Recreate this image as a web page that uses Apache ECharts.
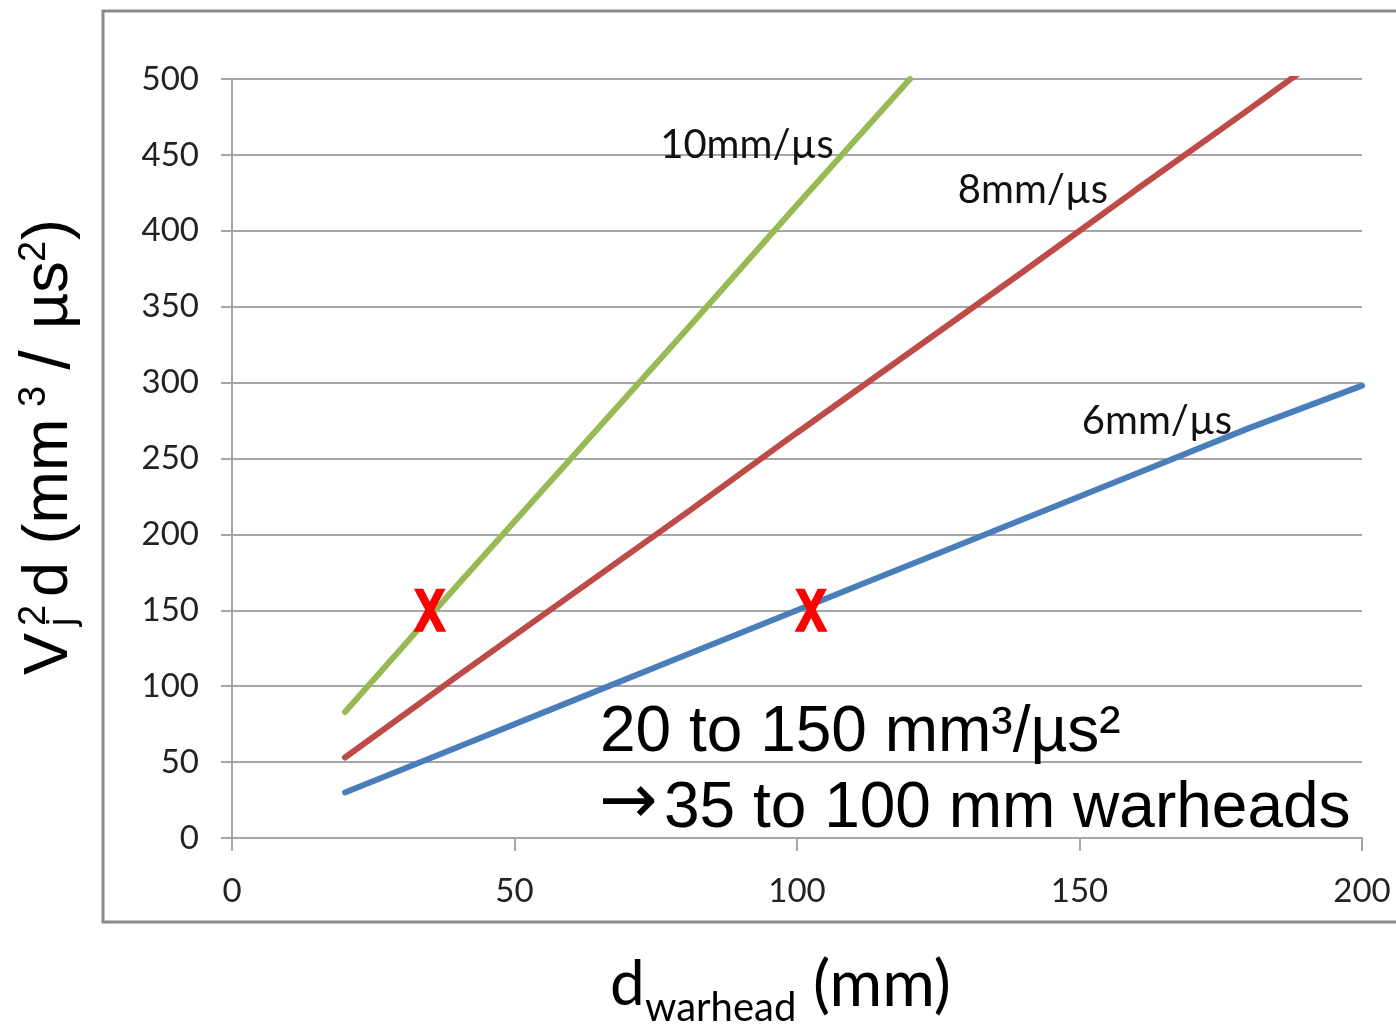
<!DOCTYPE html>
<html>
<head>
<meta charset="utf-8">
<script src="https://cdn.jsdelivr.net/npm/echarts@6/dist/echarts.min.js"></script>
<style>
html,body{margin:0;padding:0;background:#fff;}
#chart{width:1396px;height:1026px;}
</style>
</head>
<body>
<div id="chart"></div>
<script>
// ---- data ----
const xTicks = [0, 50, 100, 150, 200];
const yTicks = [0, 50, 100, 150, 200, 250, 300, 350, 400, 450, 500];

const d10 = [20, 40, 60, 80, 100, 120];
const v10 = [83, 167, 250, 333, 417, 500];

const d8 = [20, 40, 60, 80, 100, 120, 140, 160, 180, 190];
const v8 = [53, 107, 160, 213, 267, 320, 373, 427, 480, 507];

const d6 = [20, 40, 60, 80, 100, 120, 140, 160, 180, 200];
const v6 = [30, 60, 90, 120, 150, 180, 210, 240, 270, 298];

const markD = [35, 102.5];
const markV = [150, 150];

const seriesNames = ['10mm/µs', '8mm/µs', '6mm/µs'];
const annotation1 = '20 to 150 mm³/µs²';
const annotation2 = '35 to 100 mm warheads';

// ---- chart ----
const pair = (xs, ys) => xs.map((x, i) => [x, ys[i]]);
const chart = echarts.init(document.getElementById('chart'));
const gridColor = '#A6A6A6';
const tickFont = 'Lato, "Open Sans", sans-serif';
const arial = '"Liberation Sans", Arial, sans-serif';
const X_PATH = 'path://M2,0L30,0L50,40L70,0L98,0L64,65L100,134L71,134L50,91L29,134L0,134L36,65Z';

const lineSeries = (name, xs, ys, color) => ({
  name, type: 'line', data: pair(xs, ys), symbol: 'none', smooth: false,
  lineStyle: { color, width: 6, cap: 'round' }, z: 3
});

const T = (x, y, text, font, extra) => ({ type: 'text', x, y, z: 10,
  style: Object.assign({ text, font, fill: '#000', align: 'left', verticalAlign: 'middle' }, extra || {}) });

chart.setOption({
  animation: false,
  backgroundColor: '#fff',
  grid: { left: 232, right: 34, top: 79, bottom: 188, containLabel: false },
  xAxis: {
    type: 'value', min: 0, max: 200, interval: 50,
    axisLine: { show: true, lineStyle: { color: gridColor, width: 2 } },
    axisTick: { show: true, length: 13, lineStyle: { color: gridColor, width: 2 } },
    splitLine: { show: false },
    axisLabel: { margin: 37, fontSize: 33, color: '#222', fontFamily: tickFont,
      formatter: v => xTicks.includes(v) ? String(v) : '' }
  },
  yAxis: {
    type: 'value', min: 0, max: 500, interval: 50,
    axisLine: { show: true, lineStyle: { color: gridColor, width: 2 } },
    axisTick: { show: true, length: 11, lineStyle: { color: gridColor, width: 2 } },
    splitLine: { show: true, lineStyle: { color: gridColor, width: 2 } },
    axisLabel: { margin: 33, fontSize: 33, color: '#222', fontFamily: tickFont,
      formatter: v => yTicks.includes(v) ? String(v) : '' }
  },
  series: [
    lineSeries(seriesNames[0], d10, v10, '#98B954'),
    lineSeries(seriesNames[1], d8, v8, '#BE4B48'),
    lineSeries(seriesNames[2], d6, v6, '#4A7EBB'),
    {
      type: 'scatter', data: pair(markD, markV), symbol: X_PATH, symbolSize: [33, 43],
      itemStyle: { color: '#FF0000', opacity: 1 }, z: 5
    }
  ],
  graphic: [
    { type: 'rect', z: -1, silent: true,
      shape: { x: 103, y: 11, width: 1400, height: 911 },
      style: { fill: 'none', stroke: '#8A8A8A', lineWidth: 3 } },
    // series labels
    T(747, 145, seriesNames[0], '40px Lato', { fill: '#111', align: 'center' }),
    T(1033, 190, seriesNames[1], '40px Lato', { fill: '#111', align: 'center' }),
    T(1157, 421, seriesNames[2], '40px Lato', { fill: '#111', align: 'center' }),
    // annotation
    T(600, 733, annotation1, '64px "Liberation Sans"'),
    T(599, 805, '→', '70px "DejaVu Sans"'),
    T(664, 809, annotation2, '64px "Liberation Sans"'),
    // x-axis title
    T(610, 985, 'd', '62px Lato'),
    T(645, 1008, 'warhead', '40px Lato'),
    T(813, 985, '(mm)', '64px Lato'),
    // y-axis title (rotated, reads bottom to top)
    { type: 'group', x: 0, y: 447, rotation: Math.PI / 2, children: [
      T(-228, 50, 'V', '63px ' + arial),
      T(-179, 35, '2', '38px ' + arial),
      T(-179, 64, 'j', '38px ' + arial),
      T(-150, 50, 'd (mm', '63px ' + arial),
      T(40, 35, '3', '38px ' + arial),
      T(87, 50, '/', '70px ' + arial, { align: 'center' }),
      T(118, 50, 'µs', '63px ' + arial),
      T(185, 35, '2', '38px ' + arial),
      T(207, 50, ')', '63px ' + arial)
    ] }
  ]
});
</script>
</body>
</html>
